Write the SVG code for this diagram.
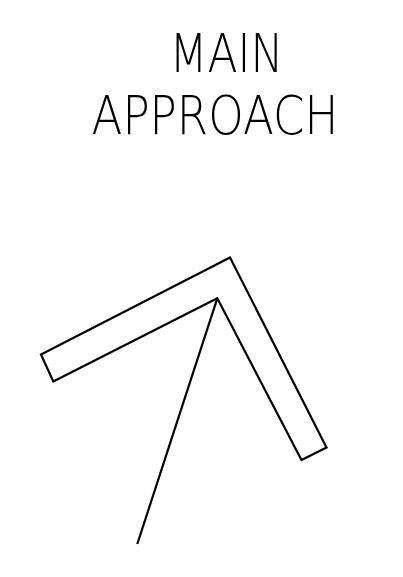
<svg xmlns="http://www.w3.org/2000/svg" width="403" height="577" viewBox="0 0 403 577">
<style>
.t{font-family:"DejaVu Sans","Liberation Sans",sans-serif;font-weight:200;font-size:53px;fill:#000}
.s{fill:none;stroke:#000;stroke-width:2.2;stroke-linejoin:miter}
</style>
<rect width="403" height="577" fill="#fff"/>
<g id="title">
<text class="t" x="169.5" y="72" textLength="114" lengthAdjust="spacingAndGlyphs">MAIN</text>
<text class="t" x="91.5" y="134" textLength="247" lengthAdjust="spacingAndGlyphs">APPROACH</text>
</g>
<g id="arrow">
<polygon class="s" points="41,354.5 230,257.5 326.5,447.5 301.5,460 217.3,298.3 53.3,381.5"/>
</g>
<g id="connectors">
<line class="s" x1="217.3" y1="298.3" x2="137.3" y2="544"/>
</g>
</svg>
